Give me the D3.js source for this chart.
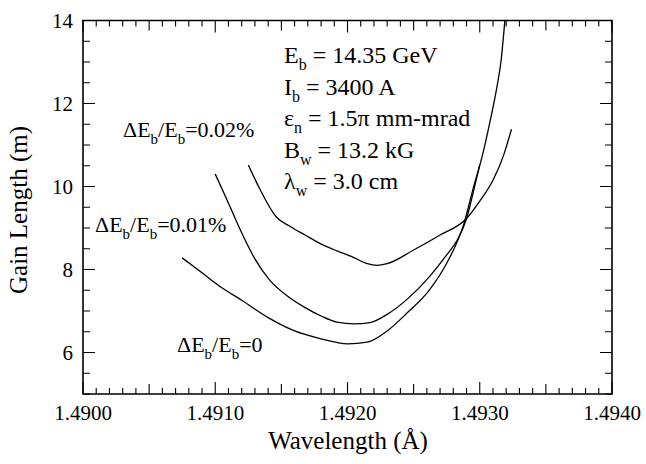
<!DOCTYPE html>
<html>
<head>
<meta charset="utf-8">
<script src="https://cdn.jsdelivr.net/npm/d3@7"></script>
<style>
  body { margin: 0; background: #fff; }
</style>
</head>
<body>
<svg id="chart" width="646" height="464"></svg>
<script>
// curve data (wavelength in Angstrom, gain length in m)
var lambdaA = [1.49075, 1.49090, 1.49105, 1.49120, 1.49140, 1.49160, 1.49180, 1.49200, 1.49215, 1.49230, 1.49245, 1.49262, 1.49275, 1.49288, 1.49295, 1.49302, 1.49308, 1.49313, 1.49316, 1.49319];
var gainA   = [8.28, 7.92, 7.56, 7.26, 6.84, 6.52, 6.33, 6.21, 6.25, 6.52, 6.95, 7.51, 8.15, 9.10, 9.95, 10.75, 11.6, 12.4, 13.0, 14.0];

var lambdaB = [1.49100, 1.49109, 1.49119, 1.49129, 1.49141, 1.49155, 1.49167, 1.49180, 1.49192, 1.49205, 1.49217, 1.49230, 1.49245, 1.49262, 1.49275, 1.49283, 1.49290, 1.49295, 1.49300];
var gainB   = [10.30, 9.67, 8.95, 8.31, 7.75, 7.35, 7.10, 6.88, 6.73, 6.69, 6.72, 6.92, 7.28, 7.83, 8.35, 8.71, 9.22, 9.85, 10.52];

var lambdaC = [1.49125, 1.49134, 1.49146, 1.49157, 1.49168, 1.49179, 1.49192, 1.49204, 1.49215, 1.49222, 1.49230, 1.49250, 1.49270, 1.49290, 1.49300, 1.49310, 1.49318, 1.49324];
var gainC   = [10.52, 9.92, 9.27, 9.03, 8.83, 8.63, 8.45, 8.30, 8.14, 8.10, 8.14, 8.47, 8.83, 9.23, 9.65, 10.15, 10.75, 11.38];

var xTickLabels = ["1.4900", "1.4910", "1.4920", "1.4930", "1.4940"];
var yTickLabels = [6, 8, 10, 12, 14];

// curve labels: [text, subscript?] pieces
var labelA = [["\u0394E", 0], ["b", 1], ["/E", 0], ["b", 1], ["=0", 0]];
var labelB = [["\u0394E", 0], ["b", 1], ["/E", 0], ["b", 1], ["=0.01%", 0]];
var labelC = [["\u0394E", 0], ["b", 1], ["/E", 0], ["b", 1], ["=0.02%", 0]];

var paramLines = [
	[["E", 0], ["b", 1], [" = 14.35 GeV", 0]],
	[["I", 0], ["b", 1], [" = 3400 A", 0]],
	[["\u03b5", 0], ["n", 1], [" = 1.5\u03c0 mm-mrad", 0]],
	[["B", 0], ["w", 1], [" = 13.2 kG", 0]],
	[["\u03bb", 0], ["w", 1], [" = 3.0 cm", 0]]
];

var FONT = "'Liberation Serif'";
var svg = d3.select("#chart");
var plotLeft = 83, plotRight = 612, plotTop = 20.5, plotBottom = 394;

var x = d3.scaleLinear().domain([1.4900, 1.4940]).range([plotLeft, plotRight]);
var y = d3.scaleLinear().domain([5, 14]).range([plotBottom, plotTop]);

// frame, drawn as a path so nothing can fill it
svg.append("path")
	.attr("d", "M" + plotLeft + "," + plotTop + "H" + plotRight + "V" + plotBottom + "H" + plotLeft + "Z")
	.attr("fill", "none")
	.attr("stroke", "#000")
	.attr("stroke-width", 1.6);

// tick marks, all pointing inward
var xMinor = d3.range(0, 41).map(function(i) { return 1.4900 + i * 0.0001; });
var yMinor = d3.range(0, 19).map(function(i) { return 5 + i * 0.5; });

function xLen(i) {
	if (i % 10 == 0) return 12;
	if (i % 5 == 0) return 10;
	return 6;
}
function yLen(v) {
	return (v % 2 == 0) ? 12 : 7;
}

var tp = d3.path();
xMinor.forEach(function(v, i) {
	var px = x(v);
	tp.moveTo(px, plotBottom); tp.lineTo(px, plotBottom - xLen(i));
	tp.moveTo(px, plotTop); tp.lineTo(px, plotTop + xLen(i));
});
yMinor.forEach(function(v) {
	var py = y(v);
	tp.moveTo(plotLeft, py); tp.lineTo(plotLeft + yLen(v), py);
	tp.moveTo(plotRight, py); tp.lineTo(plotRight - yLen(v), py);
});
svg.append("path")
	.attr("d", tp.toString())
	.attr("fill", "none")
	.attr("stroke", "#000")
	.attr("stroke-width", 1.1);

// tick labels
svg.selectAll(".xl").data(xTickLabels).enter().append("text")
	.attr("class", "xl")
	.attr("x", function(d) { return x(+d); })
	.attr("y", 420)
	.attr("text-anchor", "middle")
	.attr("font-family", FONT)
	.attr("font-size", 21)
	.text(function(d) { return d; });

svg.selectAll(".yl").data(yTickLabels).enter().append("text")
	.attr("class", "yl")
	.attr("x", 73)
	.attr("y", function(d) { return y(d) + 7; })
	.attr("text-anchor", "end")
	.attr("font-family", FONT)
	.attr("font-size", 21)
	.text(function(d) { return d; });

// axis titles
svg.append("text")
	.attr("x", 348).attr("y", 449)
	.attr("text-anchor", "middle")
	.attr("font-family", FONT)
	.attr("font-size", 25)
	.text("Wavelength (\u00c5)");

svg.append("text")
	.attr("transform", "translate(27,210) rotate(-90)")
	.attr("text-anchor", "middle")
	.attr("font-family", FONT)
	.attr("font-size", 25)
	.text("Gain Length (m)");

// curves, cut at the top of the frame
var line = d3.line()
	.x(function(d) { return x(d[0]); })
	.y(function(d) { return y(d[1]); })
	.curve(d3.curveMonotoneX);

[[lambdaA, gainA], [lambdaB, gainB], [lambdaC, gainC]].forEach(function(s) {
	svg.append("path")
		.attr("d", line(d3.zip(s[0], s[1])))
		.attr("fill", "none")
		.attr("stroke", "#000")
		.attr("stroke-width", 1.3);
});

// text with subscripts
function richText(parts, px, py, size) {
	var t = svg.append("text").attr("x", px).attr("y", py)
		.attr("font-family", FONT).attr("font-size", size);
	parts.forEach(function(p, i) {
		var sp = t.append("tspan").text(p[0]);
		if (p[1]) {
			sp.attr("font-size", Math.round(size * 0.68)).attr("dy", size * 0.3);
		} else if (i > 0) {
			sp.attr("dy", -size * 0.3);
		}
	});
	return t;
}

richText(labelC, 123, 137, 22);
richText(labelB, 95, 232, 22);
richText(labelA, 177, 352, 22);

paramLines.forEach(function(p, i) {
	richText(p, 284, 63 + i * 31.5, 24);
});
</script>
</body>
</html>
